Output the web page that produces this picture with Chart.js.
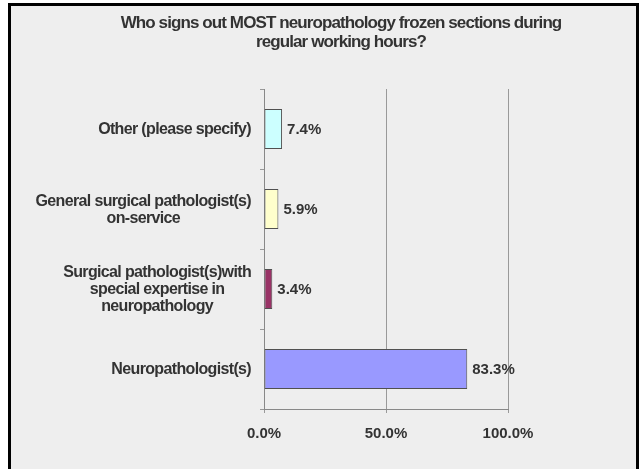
<!DOCTYPE html>
<html>
<head>
<meta charset="utf-8">
<script src="https://cdn.jsdelivr.net/npm/chart.js@4/dist/chart.umd.min.js"></script>
<style>
html,body{margin:0;padding:0;background:#fff;}
#wrap{position:absolute;left:0;top:0;width:639px;height:469px;}
</style>
</head>
<body>
<div id="wrap"><canvas id="c" width="639" height="469"></canvas></div>
<script>
const titleLines = ["Who signs out MOST neuropathology frozen sections during", "regular working hours?"];
const categories = [
  ["Other (please specify)"],
  ["General surgical pathologist(s)", "on-service"],
  ["Surgical pathologist(s)with", "special expertise in", "neuropathology"],
  ["Neuropathologist(s)"]
];
const values = [7.4, 5.9, 3.4, 83.3];
const barColors = ["#ccffff", "#ffffcc", "#993366", "#9999ff"];
const tickValues = [0, 50, 100];

const FONT = "'Liberation Sans', Arial, sans-serif";
const TXT = "#333333";

const framePlugin = {
  id: 'frame',
  beforeDraw(chart) {
    const ctx = chart.ctx;
    ctx.save();
    ctx.fillStyle = '#ffffff';
    ctx.fillRect(0, 0, 639, 469);
    ctx.fillStyle = '#000000';
    ctx.fillRect(8, 3, 631, 466);
    ctx.fillStyle = '#eeeeee';
    ctx.fillRect(11, 6, 625, 463);
    ctx.fillStyle = TXT;
    ctx.font = "bold 17px " + FONT;
    ctx.letterSpacing = '-0.9px';
    ctx.textAlign = 'center';
    ctx.textBaseline = 'middle';
    titleLines.forEach((t, i) => ctx.fillText(t, 341, 23 + i * 19));
    ctx.restore();
  }
};

const labelPlugin = {
  id: 'vlabels',
  afterDraw(chart) {
    const ctx = chart.ctx;
    const meta = chart.getDatasetMeta(0);
    ctx.save();
    ctx.fillStyle = TXT;
    ctx.font = "bold 15px " + FONT;
    ctx.letterSpacing = '0px';
    ctx.textAlign = 'left';
    ctx.textBaseline = 'middle';
    meta.data.forEach((bar, i) => {
      ctx.fillText(values[i].toFixed(1) + '%', bar.x + 5, bar.y + 1);
    });
    // category labels: block right-aligned, lines centred within block
    const ys = chart.scales.y;
    ctx.font = "bold 16px " + FONT;
    ctx.letterSpacing = '-0.65px';
    ctx.textAlign = 'center';
    categories.forEach((lines, i) => {
      const y = ys.getPixelForTick(i);
      const maxW = Math.max(...lines.map(l => ctx.measureText(l).width));
      const cx = ys.right - 13 - maxW / 2;
      lines.forEach((l, j) => {
        ctx.fillText(l, cx, y + 1 + (j - (lines.length - 1) / 2) * 17);
      });
    });
    ctx.restore();
  }
};

new Chart(document.getElementById('c'), {
  type: 'bar',
  data: {
    labels: categories,
    datasets: [{
      data: values,
      backgroundColor: barColors,
      borderColor: '#505050',
      borderWidth: 1,
      borderSkipped: false,
      categoryPercentage: 1,
      barPercentage: 0.5
    }]
  },
  options: {
    indexAxis: 'y',
    responsive: false,
    animation: false,
    devicePixelRatio: 1,
    layout: { padding: { top: 89, right: 131, bottom: 0, left: 0 } },
    plugins: { legend: { display: false }, title: { display: false }, tooltip: { enabled: false } },
    scales: {
      x: {
        min: 0, max: 100,
        afterBuildTicks(scale) { scale.ticks = tickValues.map(v => ({ value: v })); },
        afterFit(scale) { scale.height = 60; },
        grid: { color: '#999999', lineWidth: 1, tickLength: 4 },
        border: { color: '#888888' },
        ticks: {
          color: TXT, padding: 12,
          font: { family: FONT, size: 15, weight: 'bold' },
          callback: v => Number(v).toFixed(1) + '%'
        }
      },
      y: {
        afterFit(scale) { scale.width = 264; },
        grid: { offset: true, drawOnChartArea: false, color: '#999999', tickLength: 4 },
        border: { color: '#888888' },
        ticks: { display: false }
      }
    }
  },
  plugins: [framePlugin, labelPlugin]
});
</script>
</body>
</html>
